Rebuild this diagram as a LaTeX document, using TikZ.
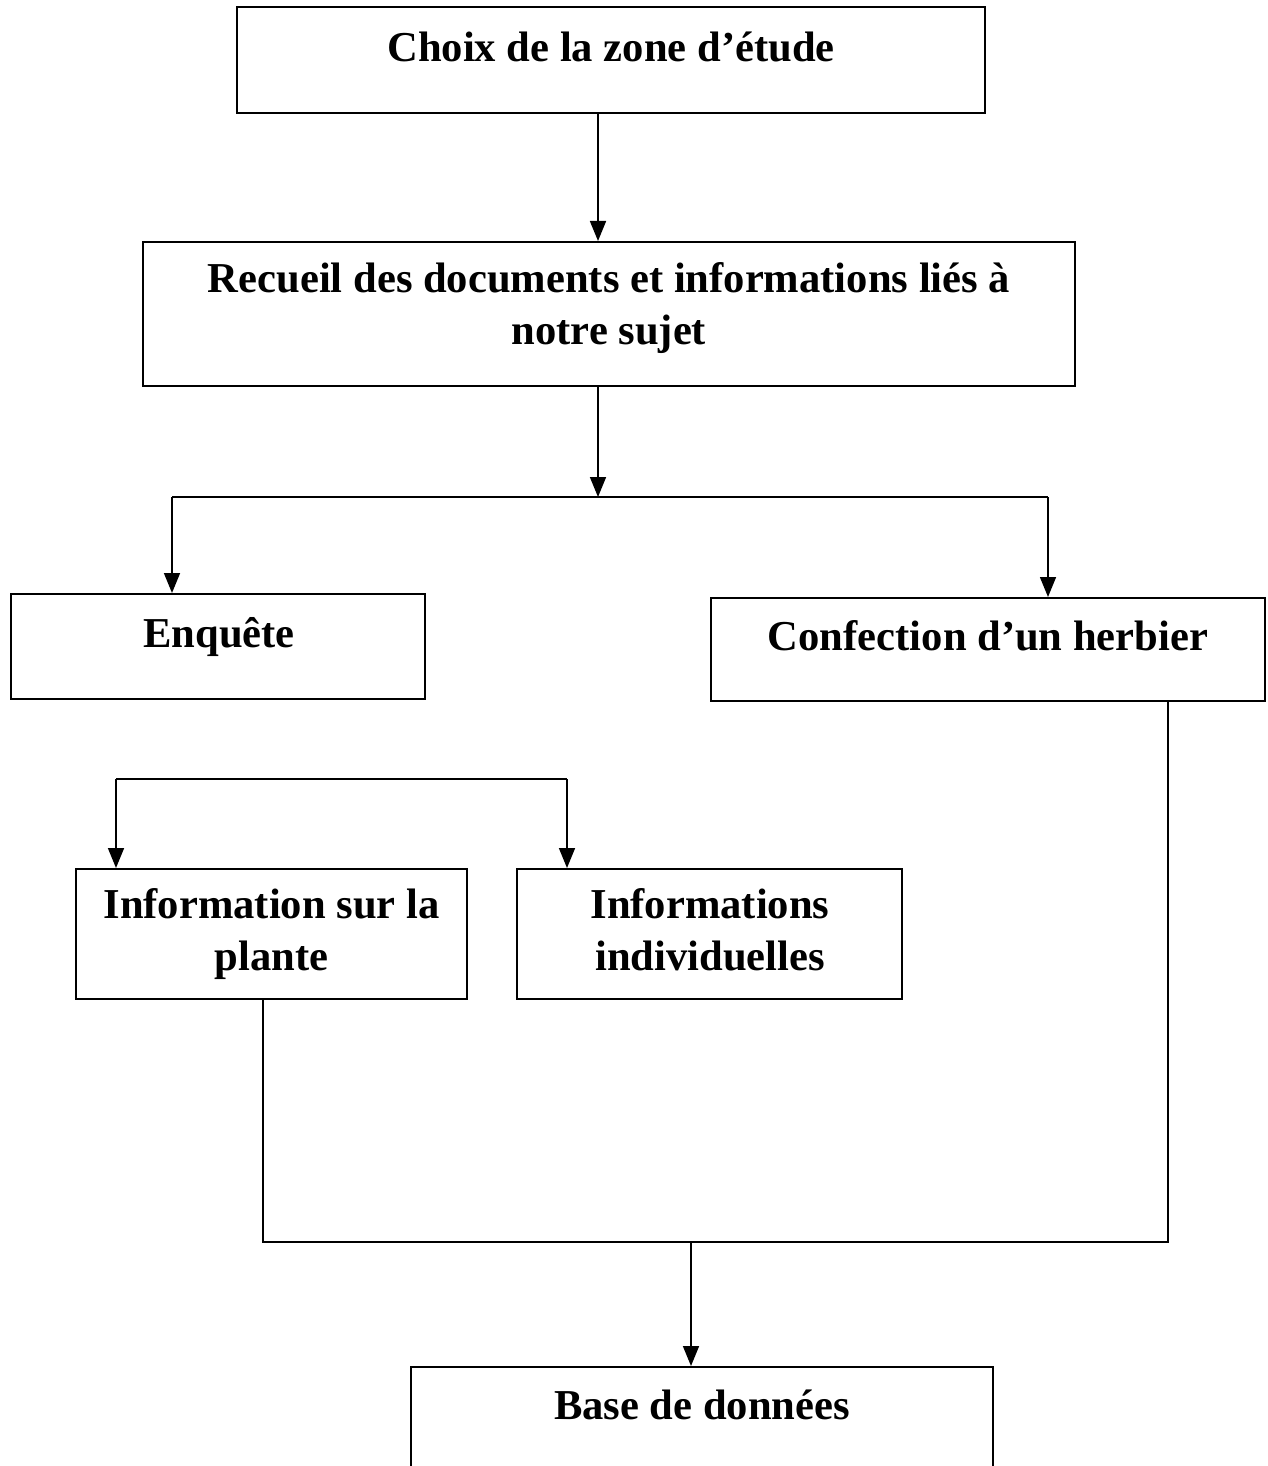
\documentclass[tikz,border=0pt]{standalone}
\usepackage{fontspec}
\setmainfont{Liberation Serif}
\usetikzlibrary{arrows.meta}
\tikzset{
  box/.style={draw, line width=1pt, rectangle, inner sep=0pt},
  lbl/.style={anchor=base, align=center, inner sep=0pt, font=\fontsize{21.3}{26}\selectfont\bfseries},
  arr/.style={line width=0.8pt, -{Triangle[length=10pt,width=8pt]}},
  lnk/.style={line width=0.8pt}
}
\begin{document}
\begin{tikzpicture}[x=0.5pt,y=-0.5pt]
		    	\useasboundingbox (0,0) rectangle (1268,1466);
		    	\node[box, minimum width=374pt, minimum height=53pt] (choix) at (611,60) {};
		    	\node[box, minimum width=466pt, minimum height=72pt] (recueil) at (609,314) {};
		    	\node[box, minimum width=207pt, minimum height=52.5pt] (enquete) at (218,646.5) {};
		    	\node[box, minimum width=277pt, minimum height=51.5pt] (confection) at (988,649.5) {};
		    	\node[box, minimum width=195.5pt, minimum height=65pt] (plante) at (271.5,934) {};
		    	\node[box, minimum width=192.5pt, minimum height=65pt] (indiv) at (709.5,934) {};
		    	\node[box, minimum width=291pt, minimum height=70pt] (base) at (702,1437) {};
		    	
		    	\node[lbl] (choixT) at (611,62) {Choix de la zone d’étude};
		    	\node[lbl] (recueilT) at (609,344) {Recueil des documents et informations liés à\\notre sujet};
		    	\node[lbl] (enqueteT) at (219,647) {Enquête};
		    	\node[lbl] (confectionT) at (988,650) {Confection d’un herbier};
		    	\node[lbl] (planteT) at (271.5,970) {Information sur la\\plante};
		    	\node[lbl] (indivT) at (710,970) {Informations\\individuelles};
		    	\node[lbl] (baseT) at (702,1419) {Base de données};
		    	
		    	\coordinate (forkA) at (598,497);
		    	\coordinate (forkAL) at (172,497);
		    	\coordinate (forkAR) at (1048,497);
		    	\coordinate (forkBL) at (116,779);
		    	\coordinate (forkBR) at (567,779);
		    	\coordinate (joinL) at (263,1242);
		    	\coordinate (joinM) at (691,1242);
		    	\coordinate (joinR) at (1168,1242);
		    	
		    	\draw[arr] ([xshift=-6.5pt]choix.south) -- ([xshift=-6.5pt]choix.south |- recueil.north);
		    	\draw[arr] (recueil.south -| forkA) -- (forkA);
		    	\draw[lnk] (forkAL) -- (forkAR);
		    	\draw[arr] (forkAL) -- (forkAL |- enquete.north);
		    	\draw[arr] (forkAR) -- (forkAR |- confection.north);
		    	\draw[lnk] (forkBL) -- (forkBR);
		    	\draw[arr] (forkBL) -- (forkBL |- plante.north);
		    	\draw[arr] (forkBR) -- (forkBR |- indiv.north);
		    	\draw[lnk] (plante.south -| joinL) -- (joinL) -- (joinR) -- (confection.south -| joinR);
		    	\draw[arr] (joinM) -- (joinM |- base.north);
		    \end{tikzpicture}
\end{document}
